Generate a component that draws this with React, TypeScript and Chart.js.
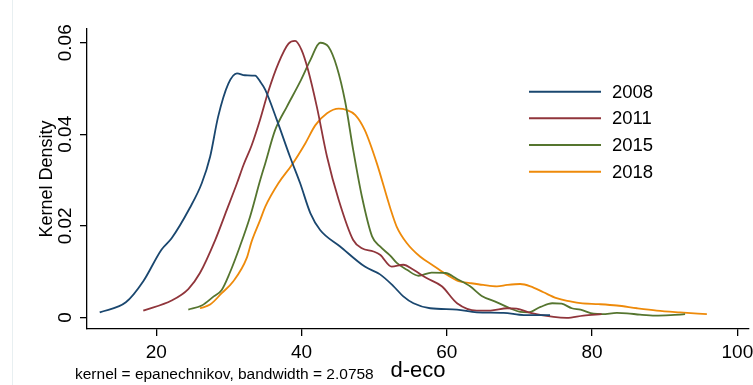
import React, { useEffect, useRef } from "react";
import { Chart, registerables } from "chart.js";

Chart.register(...registerables);

// ---------- data ----------
const years = ["2008", "2011", "2015", "2018"];

const x2008 = [12.2, 15.8, 18.2, 20.7, 22.1, 24.6, 26.25, 27.4, 28.5, 29.9, 31.1, 32.2, 33.6, 34.3, 35.0, 36.6, 38.4, 39.8, 41.2, 42.55, 45.3, 48.7, 50.8, 52.6, 54.0, 55.4, 57.7, 61.4, 64.1, 67.8, 70.6, 74.2];
const y2008 = [0.0011, 0.0033, 0.0079, 0.0148, 0.0173, 0.0239, 0.0293, 0.0351, 0.0438, 0.051, 0.0533, 0.0529, 0.0528, 0.0515, 0.0497, 0.0431, 0.0351, 0.0293, 0.0228, 0.0191, 0.0155, 0.0111, 0.0094, 0.0069, 0.0046, 0.0031, 0.002, 0.0017, 0.0011, 0.001, 0.0005, 0.0005];

const x2011 = [18.2, 22.1, 24.4, 26.0, 28.1, 29.7, 31.1, 32.0, 33.1, 34.3, 35.4, 36.8, 38.2, 39.1, 40.0, 40.9, 42.1, 43.5, 45.1, 47.1, 48.3, 49.9, 50.8, 52.4, 54.0, 55.4, 57.2, 59.3, 61.4, 64.1, 66.0, 68.3, 69.6, 71.5, 74.7, 76.5, 78.8, 81.3];
const y2011 = [0.0015, 0.0037, 0.0062, 0.0097, 0.0169, 0.0235, 0.0293, 0.0333, 0.0375, 0.0433, 0.0493, 0.0555, 0.0598, 0.0604, 0.0584, 0.054, 0.046, 0.0351, 0.0257, 0.0169, 0.0151, 0.0144, 0.0137, 0.0111, 0.0115, 0.0104, 0.0086, 0.0068, 0.0031, 0.0015, 0.0015, 0.002, 0.0019, 0.001, 0.0001, -0.0001, 0.0004, 0.0007];

const x2015 = [24.4, 26.25, 27.9, 29.0, 30.1, 31.5, 32.9, 34.3, 35.0, 36.35, 37.96, 39.8, 41.2, 42.55, 43.7, 44.85, 46.0, 47.1, 48.3, 49.7, 50.8, 52.2, 53.1, 54.5, 56.1, 57.9, 59.8, 61.4, 63.2, 64.8, 66.9, 68.7, 70.1, 71.2, 72.9, 74.5, 75.8, 77.2, 78.4, 80.2, 81.4, 83.4, 84.8, 86.6, 88.7, 90.8, 92.8];
const y2015 = [0.0017, 0.0026, 0.0046, 0.006, 0.0097, 0.0155, 0.022, 0.03, 0.0337, 0.0409, 0.046, 0.0515, 0.0562, 0.06, 0.0591, 0.0547, 0.0471, 0.0366, 0.0264, 0.0177, 0.0155, 0.0135, 0.0119, 0.0104, 0.0091, 0.0098, 0.0097, 0.0084, 0.0068, 0.0047, 0.0033, 0.002, 0.0012, 0.0011, 0.0023, 0.0031, 0.003, 0.002, 0.0017, 0.0008, 0.0007, 0.001, 0.0009, 0.0006, 0.0004, 0.0005, 0.0007];

const x2018 = [26.0, 27.4, 29.0, 30.6, 32.45, 33.1, 34.3, 35.0, 36.8, 38.65, 40.5, 41.9, 43.5, 45.1, 46.2, 47.4, 48.7, 50.35, 52.2, 53.1, 54.5, 56.3, 58.15, 60.0, 61.6, 63.2, 65.0, 66.9, 68.3, 70.1, 71.5, 73.3, 75.1, 77.0, 78.4, 80.9, 83.4, 86.2, 88.9, 92.1, 95.8];
const y2018 = [0.002, 0.0028, 0.0053, 0.0079, 0.013, 0.0165, 0.0213, 0.0242, 0.0293, 0.0333, 0.038, 0.042, 0.0446, 0.0456, 0.0453, 0.0442, 0.0409, 0.0337, 0.0239, 0.0198, 0.0162, 0.0133, 0.0113, 0.0093, 0.0079, 0.0075, 0.0071, 0.0068, 0.0071, 0.0073, 0.0068, 0.0055, 0.0042, 0.0035, 0.0031, 0.0029, 0.0026, 0.002, 0.0015, 0.0011, 0.0007];

const xTicks = [20, 40, 60, 80, 100];
const yTicks = [0, 0.02, 0.04, 0.06];
const yTickLabels = ["0", "0.02", "0.04", "0.06"];

const xTitle = "d-eco";
const yTitle = "Kernel Density";
const note = "kernel = epanechnikov, bandwidth = 2.0758";

const colors = ["#1a476f", "#90353b", "#55752f", "#ee8a0a"];

const FONT = "'Liberation Sans', Arial, Helvetica, sans-serif";

const overlayPlugin = {
  id: "overlay",
  beforeDraw(chart: any) {
    const ctx = chart.ctx;
    ctx.save();
    ctx.fillStyle = "#e8eff1";
    ctx.fillRect(12, 0, 1, chart.height);
    ctx.restore();
  },
  afterDraw(chart: any) {
    const ctx = chart.ctx;
    ctx.save();
    // note
    ctx.fillStyle = "#000";
    ctx.font = `15.5px ${FONT}`;
    ctx.textAlign = "left";
    ctx.textBaseline = "alphabetic";
    ctx.fillText(note, 75, 379);
    // legend
    const rowY = [91.7, 118.3, 145, 171.7];
    chart.data.datasets.forEach((ds: any, i: number) => {
      const y = rowY[i];
      ctx.strokeStyle = ds.borderColor;
      ctx.lineWidth = 2;
      ctx.beginPath();
      ctx.moveTo(529, y);
      ctx.lineTo(601, y);
      ctx.stroke();
      ctx.fillStyle = "#000";
      ctx.font = `18.5px ${FONT}`;
      ctx.textBaseline = "middle";
      ctx.fillText(ds.label, 612, y + 1);
    });
    ctx.restore();
  },
};

export default function App() {
  const ref = useRef<HTMLCanvasElement>(null);

  useEffect(() => {
    document.body.style.margin = "0";
    const series = [
      [x2008, y2008],
      [x2011, y2011],
      [x2015, y2015],
      [x2018, y2018],
    ];
    const gridOpts = {
      display: true,
      drawOnChartArea: false,
      drawTicks: true,
      tickLength: 7,
      color: "#000",
      lineWidth: 1.3,
    };
    const borderOpts = { display: true, color: "#000", width: 1.3 };

    const chart = new Chart(ref.current as HTMLCanvasElement, {
      type: "line",
      data: {
        datasets: years.map((yr, i) => ({
          label: yr,
          data: series[i][0].map((x, j) => ({ x, y: series[i][1][j] })),
          borderColor: colors[i],
          backgroundColor: colors[i],
          borderWidth: 1.8,
          pointRadius: 0,
          fill: false,
          cubicInterpolationMode: "monotone",
        })),
      },
      options: {
        responsive: false,
        animation: false,
        devicePixelRatio: 1,
        layout: { padding: { left: 0, right: 4, top: 29, bottom: 0 } },
        plugins: {
          legend: { display: false },
          tooltip: { enabled: false },
        },
        scales: {
          x: {
            type: "linear",
            min: 10.45,
            max: 101.6,
            afterBuildTicks: (s: any) => {
              s.ticks = xTicks.map((v) => ({ value: v }));
            },
            afterFit: (s: any) => {
              s.height = 56;
              s.paddingLeft = 0;
              s.paddingRight = 0;
            },
            grid: gridOpts,
            border: borderOpts,
            ticks: {
              color: "#000",
              font: { family: FONT, size: 19 },
              padding: 5,
              maxRotation: 0,
              autoSkip: false,
            },
            title: {
              display: true,
              text: xTitle,
              color: "#000",
              font: { family: FONT, size: 22 },
              padding: { top: 0, bottom: 1 },
            },
          },
          y: {
            type: "linear",
            min: -0.00253,
            max: 0.063,
            afterBuildTicks: (s: any) => {
              s.ticks = yTicks.map((v) => ({ value: v }));
            },
            afterFit: (s: any) => {
              s.width = 87;
              s.paddingTop = 0;
              s.paddingBottom = 0;
            },
            grid: gridOpts,
            border: borderOpts,
            ticks: {
              color: "#000",
              font: { family: FONT, size: 19 },
              minRotation: 90,
              maxRotation: 90,
              crossAlign: "center",
              padding: -4,
              autoSkip: false,
              callback: (v: any) => {
                const k = yTicks.indexOf(Number(v));
                return k >= 0 ? yTickLabels[k] : "";
              },
            },
            title: {
              display: true,
              text: yTitle,
              color: "#000",
              font: { family: FONT, size: 18 },
              padding: { top: 36, bottom: 0 },
            },
          },
        },
      } as any,
      plugins: [overlayPlugin],
    });
    return () => chart.destroy();
  }, []);

  return (
    <div style={{ position: "absolute", left: 0, top: 0, width: 753, height: 385, background: "#fff" }}>
      <canvas ref={ref} width={753} height={385} style={{ display: "block", width: 753, height: 385 }} />
    </div>
  );
}
